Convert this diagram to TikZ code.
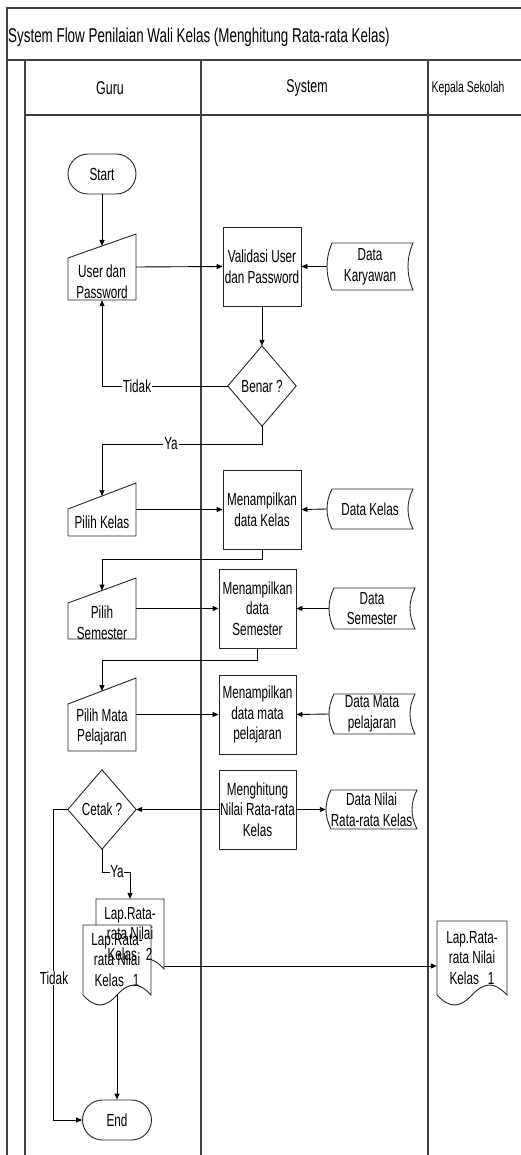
\documentclass[tikz,border=0pt]{standalone}
\usepackage{fontspec}
\setmainfont{Liberation Sans}[FakeStretch=0.67]
\usetikzlibrary{arrows.meta,shapes.misc,calc}
% manual input: name, L, R, y top-left, y top-right, y bottom, text y, text
\newcommand\mInput[8]{%
  \node[inner sep=0pt, minimum width={#3-#2}, minimum height={#6-#5}] (#1) at ({(#2+#3)/2},{(#5+#6)/2}) {};
  \draw[shp] (#2,#6) -- (#3,#6) -- (#3,#5) -- (#2,#4) -- cycle;
  \coordinate (#1-in) at ({(#2+#3)/2},{(#4+#5)/2});
  \node[txt] (#1-t) at ({(#2+#3)/2},#7) {#8};
}
% stored data: name, L, R, top, bottom, text
\newcommand\storeD[6]{%
  \draw[shp] ({#2+5},#4) -- (#3,#4)
    .. controls ({#3-6.67},{#4+(#5-#4)/3}) and ({#3-6.67},{#5-(#5-#4)/3}) .. (#3,#5)
    -- ({#2+5},#5)
    .. controls ({#2-1.67},{#5-(#5-#4)/3}) and ({#2-1.67},{#4+(#5-#4)/3}) .. ({#2+5},#4) -- cycle;
  \node[txt, minimum width={#3-#2}, minimum height={#5-#4}] (#1) at ({(#2+#3)/2},{(#4+#5)/2}) {#6};
}
% document shape path: L, R, top, b
\newcommand\docShape[4]{%
  \draw[shp] (#1,#3) -- (#2,#3) -- (#2,#4)
    .. controls ({#2-0.18*(#2-#1)},{#4-13.3}) and ({#2-0.32*(#2-#1)},{#4-13.3}) .. ({(#1+#2)/2},#4)
    .. controls ({#1+0.32*(#2-#1)},{#4+13.3}) and ({#1+0.18*(#2-#1)},{#4+13.3}) .. (#1,#4) -- cycle;
}
\begin{document}
\begin{tikzpicture}[x=1pt,y=-1pt,
  lane/.style={draw=black!75, line width=1.2pt},
  shp/.style={draw=black!85, line width=0.9pt, fill=white},
  con/.style={draw=black, line width=0.9pt},
  arr/.style={con, -{Triangle[length=6pt,width=5pt]}},
  txt/.style={align=center, font=\fontsize{17.5}{20.7}\selectfont, inner sep=0pt},
  box/.style={shp, rectangle, txt},
  lbl/.style={fill=white, inner sep=1pt, font=\fontsize{17.5}{20}\selectfont},
  term/.style={shp, rounded rectangle, minimum width=68pt, minimum height=40pt, txt}
]
\useasboundingbox (0,0) rectangle (521,1155);

% ---- frame and lanes ----
\draw[lane] (7,1155) -- (7,8) -- (521,8);
\draw[lane] (7,60) -- (521,60);
\draw[lane] (25,60) -- (25,1155);
\draw[lane] (25,115) -- (521,115);
\draw[lane] (201,60) -- (201,1155);
\draw[lane] (428,60) -- (428,1155);
\node[anchor=west, inner sep=0pt, font=\fontsize{20}{23}\selectfont] (title) at (8,37) {System Flow Penilaian Wali Kelas (Menghitung Rata-rata Kelas)};
\node[font=\fontsize{18.5}{22}\selectfont] (hg) at (110,88) {Guru};
\node[font=\fontsize{18.5}{22}\selectfont] (hs) at (307,88) {System};
\node[font=\fontsize{15.5}{18}\selectfont] (hk) at (468,88) {Kepala Sekolah};

% ---- shapes ----
\node[term] (start) at (102,174) {Start};
\mInput{user}{68}{136}{258}{234}{300}{282}{User dan\\Password}
\node[box, minimum width=78pt, minimum height=79pt] (val) at (262,266.5) {Validasi User\\dan Password};
\storeD{dkar}{327}{413}{243}{290}{Data\\Karyawan}
\node[minimum width=68pt, minimum height=80pt, inner sep=0pt, txt] (benar) at (262,386) {};
\draw[shp] (benar.north) -- (benar.east) -- (benar.south) -- (benar.west) -- cycle;
\node[txt] (benar-t) at (benar.center) {Benar ?};

\mInput{pk}{68}{136}{509}{483}{536}{522}{Pilih Kelas}
\node[box, minimum width=78pt, minimum height=79pt] (mk) at (262,509.5) {Menampilkan\\data Kelas};
\storeD{dkel}{327}{413}{489}{529}{Data Kelas}

\mInput{ps}{68}{136}{603}{578}{639}{623}{Pilih\\Semester}
\node[box, minimum width=77pt, minimum height=79pt] (ms) at (257.5,608.5) {Menampilkan\\data\\Semester};
\storeD{dsem}{329}{415}{588}{629}{Data\\Semester}

\mInput{pm}{68}{136}{704}{678}{751}{727}{Pilih Mata\\Pelajaran}
\node[box, minimum width=77pt, minimum height=79pt] (mm) at (257.5,714.5) {Menampilkan\\data mata\\pelajaran};
\storeD{dmp}{329}{415}{694}{734}{Data Mata\\pelajaran}

\node[box, minimum width=77pt, minimum height=79pt] (hit) at (257.5,809.5) {Menghitung\\Nilai Rata-rata\\Kelas};
\storeD{dnil}{326}{417}{790}{829}{Data Nilai\\Rata-rata Kelas}
\node[minimum width=68pt, minimum height=79pt, inner sep=0pt, txt] (cetak) at (102,809.5) {};
\draw[shp] (cetak.north) -- (cetak.east) -- (cetak.south) -- (cetak.west) -- cycle;
\node[txt] (cetak-t) at (cetak.center) {Cetak ?};

\docShape{96}{164}{899}{969}
\docShape{83}{151}{925}{995}
\docShape{437}{507}{921}{995}
\node[txt, minimum width=68pt, minimum height=70pt] (lap2) at (130,934) {Lap.Rata-\\rata Nilai\\Kelas\hspace{9pt}2};
\node[txt, minimum width=68pt, minimum height=70pt] (lap1) at (117,960) {Lap.Rata-\\rata Nilai\\Kelas\hspace{9pt}1};
\node[txt, minimum width=70pt, minimum height=74pt] (lapk) at (472,958) {Lap.Rata-\\rata Nilai\\Kelas\hspace{9pt}1};
\node[term, minimum width=69pt] (end) at (117,1120) {End};

% ---- connectors ----
\draw[arr] (start.south) -- (user-in);
\draw[arr] (user.east) -- (val.west);
\draw[arr] (dkar.west) -- (val.east);
\draw[arr] (val.south) -- (benar.north);
\draw[arr] (benar.west) -| (user.south);
\node[lbl] (ltidak1) at (137,386) {Tidak};
\draw[arr] (benar.south) -- ++(0,18) -| (pk-in);
\node[lbl] (lya1) at (171,444) {Ya};

\draw[arr] (pk.east) -- (mk.west);
\draw[arr] (dkel.west) -- (mk.east);
\draw[arr] (mk.south) -- ++(0,10) -| (ps-in);

\draw[arr] (ps.east) -- (ms.west);
\draw[arr] (dsem.west) -- (ms.east);
\draw[arr] (ms.south) -- ++(0,12) -| (pm-in);

\draw[arr] (pm.east) -- (mm.west);
\draw[arr] (dmp.west) -- (mm.east);

\draw[arr] (hit.west) -- (cetak.east);
\draw[arr] (hit.east) -- (dnil.west);

\draw[arr] (cetak.south) -- ++(0,23) -| (lap2.north);
\node[lbl, inner sep=0.5pt] (lya2) at (117,872) {Ya};
\draw[arr] (cetak.west) -- ++(-14,0) |- (end.west);
\node[lbl] (ltidak2) at (54,978) {Tidak};

\coordinate (lapout) at (164,966);
\draw[arr] (lapout) -- (lapout -| lapk.west);
\draw[arr] (lap1.south |- 0,995) -- (end.north);
\end{tikzpicture}
\end{document}
